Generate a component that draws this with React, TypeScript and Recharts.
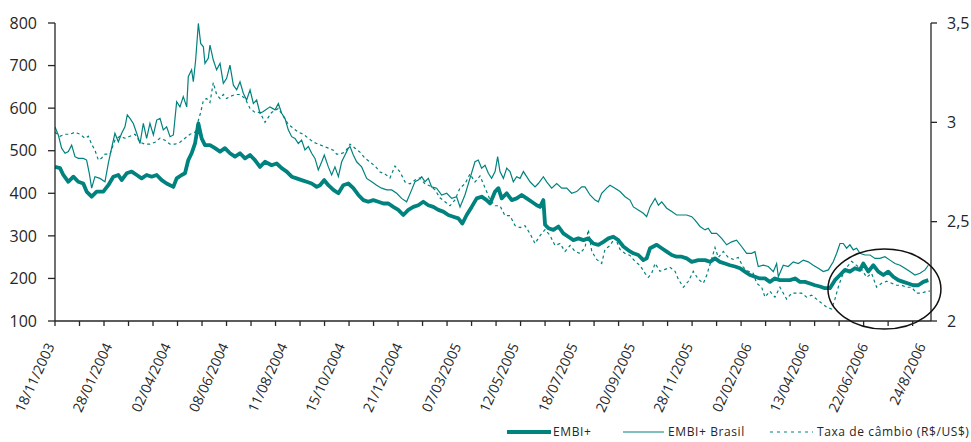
import React from "react";
import {
  LineChart,
  Line,
  XAxis,
  YAxis,
  ReferenceDot,
} from "recharts";

// [business-day index, value]
const embiPlus: [number, number][] = [
  [0, 462], [4.1, 459], [6.8, 443], [10.9, 427], [15, 439], [19, 427], [23.1, 423], [25.8, 404],
  [29.9, 392], [34, 404], [39.4, 404], [43.5, 419], [47.6, 439], [51.7, 443], [54.4, 431], [58.5, 447],
  [62.6, 451], [66.7, 443], [70.7, 435], [74.8, 443], [78.9, 439], [83, 443], [87.1, 431], [91.1, 423],
  [96.6, 415], [99.3, 435], [103.4, 443], [106.1, 447], [108.8, 478], [111.5, 494], [114.3, 517], [117, 564],
  [119.7, 529], [122.4, 513], [126.5, 513], [130.6, 506], [134.7, 498], [138.7, 506], [142.8, 494], [146.9, 486],
  [151, 494], [155.1, 482], [159.2, 490], [163.2, 478], [167.3, 462], [171.4, 474], [176.8, 466], [180.9, 470],
  [185, 459], [189.1, 451], [193.2, 439], [197.2, 435], [201.3, 431], [205.4, 427], [209.5, 423], [213.6, 415],
  [216.3, 419], [219.8, 431], [223.1, 419], [227.2, 408], [231.3, 400], [235.3, 419], [239.4, 423], [243.5, 412],
  [247.6, 396], [251.7, 384], [255.7, 380], [259.8, 384], [263.9, 380], [268, 376], [272.1, 376], [276.1, 368],
  [280.2, 361], [284.3, 349], [288.4, 361], [292.5, 368], [296.5, 372], [300.6, 380], [304.7, 372], [308.8, 368],
  [312.9, 361], [316.9, 357], [321, 349], [325.1, 345], [329.2, 341], [332.5, 329], [336, 349], [340.1, 368],
  [344.2, 388], [348.2, 392], [352.3, 384], [355.1, 376], [359.2, 404], [361.9, 412], [364.6, 388], [368.7, 400],
  [372.8, 384], [376.8, 388], [380.9, 396], [385, 388], [389.1, 380], [393.2, 372], [395.9, 368], [398.6, 384],
  [400, 326], [402.7, 318], [406.8, 314], [410.9, 322], [414.9, 306], [419, 298], [423.1, 290], [427.2, 294],
  [431.3, 290], [435.3, 294], [439.4, 282], [443.5, 279], [447.6, 286], [451.7, 294], [455.7, 298], [459.8, 290],
  [463.9, 275], [468, 266], [472.1, 259], [476.1, 255], [480.2, 243], [482.9, 247], [485.7, 271], [488.4, 275],
  [491.1, 279], [495.2, 271], [499.3, 263], [503.4, 255], [507.4, 251], [511.5, 251], [515.6, 247], [519.7, 239],
  [525.1, 243], [530.6, 243], [534.6, 239], [538.7, 247], [542.7, 239], [546.8, 235], [550.9, 231], [555, 228],
  [559.1, 224], [563.1, 216], [567.2, 208], [571.3, 204], [575.4, 200], [579.5, 200], [583.5, 192], [587.6, 200],
  [591.7, 196], [595.8, 196], [599.9, 196], [604, 200], [608, 192], [612.1, 192], [616.2, 188], [620.3, 184],
  [624.4, 181], [628.4, 177], [632.5, 177], [636.6, 196], [640.7, 208], [644.8, 220], [648.8, 216], [652.9, 224],
  [657, 220], [659.7, 235], [663.8, 216], [667.9, 231], [672, 216], [676.1, 208], [680.1, 216], [684.2, 204],
  [688.3, 196], [692.4, 192], [696.5, 188], [700.5, 184], [704.6, 184], [708.7, 192], [712.8, 196],
];

const embiBrasil: [number, number][] = [
  [0, 556], [2.7, 537], [5.4, 506], [8.2, 494], [10.9, 498], [13.6, 513], [16.3, 486], [19, 482],
  [23.1, 482], [25.8, 478], [28, 447], [29.9, 412], [32.6, 439], [36.7, 435], [40.8, 427], [43.5, 470],
  [46.2, 506], [48.9, 541], [51.7, 521], [54.4, 541], [57.1, 556], [59, 584], [61.2, 576], [63.9, 564],
  [66.7, 541], [69.4, 517], [72.1, 564], [74.8, 529], [77.5, 564], [80.3, 537], [83, 572], [85.7, 576],
  [88.4, 549], [91.1, 556], [93.9, 533], [96.6, 537], [99.3, 615], [102, 603], [104.7, 627], [107.5, 603],
  [108.8, 674], [111.5, 690], [112.9, 662], [114.8, 713], [117, 799], [118.9, 752], [121.1, 744], [122.4, 705],
  [125.1, 717], [126.5, 748], [129.2, 713], [131.9, 690], [134.7, 705], [137.4, 658], [140.1, 670], [142.8, 701],
  [145.6, 654], [148.3, 643], [151, 662], [153.7, 635], [156.4, 619], [159.2, 643], [161.9, 611], [164.6, 619],
  [167.3, 588], [170, 592], [175.5, 603], [179.6, 596], [182.3, 611], [185, 588], [187.7, 576], [190.4, 549],
  [193.2, 533], [195.9, 529], [198.6, 517], [201.3, 525], [204, 502], [206.8, 510], [209.5, 494], [212.2, 482],
  [214.9, 455], [217.7, 474], [219.8, 490], [223.1, 462], [225.8, 443], [228.5, 462], [231.3, 439], [234, 474],
  [236.7, 490], [239.4, 506], [240.8, 510], [243.5, 490], [246.2, 474], [250.3, 462], [254.4, 435], [258.5, 427],
  [262.5, 419], [266.6, 412], [270.7, 408], [274.8, 408], [278.9, 400], [282.9, 388], [287, 380], [291.1, 408],
  [293.8, 427], [296.5, 431], [299.3, 439], [302, 427], [304.7, 435], [307.4, 415], [311.5, 412], [315.6, 396],
  [319.7, 400], [323.8, 388], [327.8, 392], [330.6, 368], [334.6, 396], [338.7, 435], [342.8, 474], [345.5, 478],
  [348.2, 459], [351, 466], [353.7, 447], [356.4, 435], [359.2, 451], [361.3, 486], [363.2, 451], [366, 435],
  [368.7, 459], [371.4, 451], [374.1, 427], [376.8, 439], [379.6, 435], [382.3, 451], [385, 439], [387.7, 427],
  [391.8, 415], [394.5, 423], [398.6, 439], [401.3, 427], [405.4, 412], [409.5, 423], [413.6, 412], [417.7, 412],
  [421.7, 400], [425.8, 404], [429.9, 415], [432.6, 415], [436.7, 396], [440.8, 384], [443.5, 380], [446.2, 400],
  [450.3, 412], [453, 419], [457.1, 412], [461.2, 404], [465.3, 392], [469.3, 384], [472.1, 368], [476.1, 361],
  [480.2, 353], [482.9, 345], [485.7, 368], [489.8, 388], [492.5, 372], [495.2, 380], [499.3, 365], [503.4, 357],
  [507.4, 349], [511.5, 349], [515.6, 349], [519.7, 345], [522.4, 337], [526.5, 322], [530.6, 314], [533.2, 318],
  [535.9, 306], [540, 306], [544.1, 294], [548.2, 279], [552.3, 286], [556.3, 290], [560.4, 275], [564.5, 259],
  [568.6, 259], [571.3, 263], [574, 228], [578.1, 231], [582.2, 228], [586.3, 216], [589, 235], [590.4, 204],
  [594.4, 231], [598.5, 228], [602.6, 239], [606.7, 235], [610.8, 243], [614.8, 239], [618.9, 231], [623, 224],
  [627.1, 216], [631.2, 220], [635.2, 239], [638, 259], [640.7, 282], [643.4, 282], [646.1, 271], [648.8, 279],
  [651.6, 267], [654.3, 271], [657, 259], [661.1, 255], [665.2, 255], [669.3, 247], [673.3, 247], [677.4, 251],
  [681.5, 243], [685.6, 235], [689.7, 231], [693.7, 224], [697.8, 216], [701.9, 208], [706, 212], [710.1, 220],
  [712.8, 231],
];

// R$/US$
const cambio: [number, number][] = [
  [0, 2.95], [4.1, 2.93], [8.2, 2.94], [12.2, 2.94], [16.3, 2.95], [20.4, 2.94], [24.5, 2.92], [27.2, 2.93],
  [29.9, 2.89], [32.6, 2.86], [35.4, 2.81], [38.1, 2.82], [40.8, 2.84], [44.9, 2.84], [48.9, 2.91], [53, 2.93],
  [57.1, 2.92], [61.2, 2.93], [65.3, 2.94], [69.4, 2.9], [73.5, 2.89], [77.5, 2.89], [81.6, 2.9], [85.7, 2.92],
  [89.8, 2.91], [93.9, 2.89], [97.9, 2.89], [102, 2.9], [106.1, 2.92], [110.2, 2.94], [114.3, 2.95], [117, 3.01],
  [118.9, 3.05], [121.1, 3.11], [123.8, 3.12], [126.5, 3.1], [129.2, 3.2], [131.9, 3.14], [134.7, 3.12], [137.4, 3.14],
  [140.1, 3.12], [142.8, 3.13], [146.9, 3.14], [151, 3.14], [155.1, 3.12], [159.2, 3.07], [163.2, 3.05], [167.3, 3.05],
  [171.4, 3.0], [176.8, 3.05], [182.3, 3.07], [186.4, 3.03], [190.4, 2.99], [194.5, 2.97], [198.6, 2.95], [202.7, 2.94],
  [206.8, 2.92], [210.9, 2.9], [214.9, 2.89], [219, 2.88], [223.1, 2.87], [227.2, 2.86], [229.9, 2.84], [232.6, 2.84],
  [236.7, 2.85], [240.8, 2.89], [244.9, 2.87], [248.9, 2.85], [253, 2.82], [257.1, 2.8], [261.2, 2.78], [265.3, 2.75],
  [269.3, 2.74], [273.4, 2.72], [277.5, 2.78], [281.6, 2.75], [285.7, 2.7], [289.7, 2.69], [293.8, 2.71], [297.9, 2.72],
  [302, 2.69], [306.1, 2.68], [310.2, 2.66], [314.2, 2.62], [318.3, 2.6], [322.4, 2.58], [326.5, 2.61], [330.6, 2.67],
  [334.6, 2.69], [338.7, 2.74], [342.8, 2.7], [346.9, 2.73], [351, 2.67], [355.1, 2.61], [359.2, 2.58], [363.2, 2.58],
  [367.3, 2.53], [371.4, 2.53], [375.5, 2.48], [379.6, 2.47], [383.6, 2.48], [387.7, 2.44], [391.8, 2.39], [395.9, 2.43],
  [400, 2.46], [404.1, 2.43], [408.1, 2.38], [412.2, 2.39], [416.3, 2.35], [420.4, 2.38], [424.5, 2.35], [428.5, 2.34],
  [432.6, 2.37], [435.3, 2.46], [438.1, 2.35], [442.1, 2.31], [446.2, 2.29], [448.9, 2.36], [453, 2.38], [457.1, 2.42],
  [461.2, 2.36], [465.3, 2.34], [469.3, 2.33], [473.4, 2.3], [477.5, 2.28], [481.6, 2.24], [484.3, 2.22], [487, 2.24],
  [489.8, 2.29], [493.8, 2.25], [497.9, 2.26], [502, 2.27], [506.1, 2.25], [508.8, 2.21], [512.9, 2.17], [517, 2.2],
  [521, 2.25], [525.1, 2.21], [529.2, 2.19], [531.9, 2.23], [535.9, 2.31], [538.7, 2.37], [541.4, 2.32], [545.5, 2.35],
  [549.5, 2.32], [553.6, 2.31], [557.7, 2.32], [561.8, 2.27], [565.9, 2.25], [569.9, 2.24], [572.7, 2.19], [576.8, 2.17],
  [579.5, 2.12], [583.5, 2.15], [587.6, 2.12], [591.7, 2.17], [597.2, 2.11], [601.2, 2.14], [605.3, 2.14], [609.4, 2.14],
  [613.5, 2.12], [617.6, 2.13], [621.6, 2.11], [625.7, 2.09], [629.8, 2.07], [633.9, 2.06], [636.6, 2.11], [639.3, 2.17],
  [642, 2.22], [646.1, 2.27], [650.2, 2.3], [654.3, 2.28], [658.4, 2.26], [662.5, 2.22], [666.5, 2.24], [670.6, 2.17],
  [674.7, 2.19], [678.8, 2.2], [682.9, 2.19], [686.9, 2.18], [691, 2.18], [695.1, 2.17], [699.2, 2.17], [703.3, 2.14],
  [707.3, 2.14], [711.4, 2.15], [714.1, 2.15],
];

const dateLabels = [
  "18/11/2003", "28/01/2004", "02/04/2004", "08/06/2004", "11/08/2004", "15/10/2004",
  "21/12/2004", "07/03/2005", "12/05/2005", "18/07/2005", "20/09/2005", "28/11/2005",
  "02/02/2006", "13/04/2006", "22/06/2006", "24/8/2006",
];
const labelDays = [0, 47, 95, 142, 190, 237, 284, 332, 379, 427, 474, 521, 569, 616, 664, 711];
const tickDays = Array.from({ length: 36 }, (_, i) => i * 20);
const leftTicks = [100, 200, 300, 400, 500, 600, 700, 800];
const rightTicks = [2, 2.5, 3, 3.5];

const TEAL = "#00827e";
const INK = "#262626";
const FONT = "'Open Sans', sans-serif";

const toRows = (pts: [number, number][]) => pts.map(([d, v]) => ({ d, v }));

const allXTicks = Array.from(new Set([...tickDays, ...labelDays])).sort((a, b) => a - b);

function XTick(props: any) {
  const { x, y, payload } = props;
  const v = payload.value;
  const li = labelDays.indexOf(v);
  return (
    <g>
      {tickDays.includes(v) && (
        <line x1={x} x2={x} y1={y} y2={y + 5} stroke={INK} strokeWidth={1.3} />
      )}
      {li >= 0 && (
        <text
          x={x}
          y={y + 25}
          textAnchor="end"
          transform={`rotate(-65 ${x} ${y + 25})`}
          fontSize={14}
          fontFamily={FONT}
          fill={INK}
        >
          {dateLabels[li]}
        </text>
      )}
    </g>
  );
}

function Ellipse(props: any) {
  const { cx, cy } = props;
  return <ellipse cx={cx} cy={cy} rx={56.5} ry={40} fill="none" stroke="#111" strokeWidth={1.5} />;
}

function LegendRow() {
  const text = { fontSize: 12, fontFamily: FONT, fill: INK, letterSpacing: 0.6 } as const;
  return (
    <svg width={971} height={24} style={{ position: "absolute", left: 0, top: 420 }}>
      <line x1={507} x2={551} y1={12} y2={12} stroke={TEAL} strokeWidth={4} />
      <text x={553} y={16} {...text}>EMBI+</text>
      <line x1={623} x2={664} y1={12} y2={12} stroke={TEAL} strokeWidth={1.2} />
      <text x={668} y={16} {...text}>EMBI+ Brasil</text>
      <line x1={770} x2={813} y1={12} y2={12} stroke={TEAL} strokeWidth={1.2} strokeDasharray="3 4" />
      <text x={817} y={16} {...text}>Taxa de câmbio (R$/US$)</text>
    </svg>
  );
}

export default function App() {
  const tickStyle = { fill: INK, fontSize: 16, fontFamily: FONT };
  return (
    <div style={{ position: "absolute", left: 0, top: 0, width: 971, height: 442, background: "#fff" }}>
      <LineChart width={971} height={442} margin={{ top: 23, right: 0, bottom: 0, left: 0 }}>
        <XAxis
          type="number"
          dataKey="d"
          domain={[0, 715]}
          allowDataOverflow
          ticks={allXTicks}
          interval={0}
          tick={<XTick />}
          tickLine={false}
          tickSize={0}
          tickMargin={0}
          height={121}
          axisLine={{ stroke: INK, strokeWidth: 1.3 }}
        />
        <YAxis
          yAxisId="left"
          domain={[100, 800]}
          ticks={leftTicks}
          width={55}
          tickSize={7}
          tickMargin={11}
          tick={tickStyle}
          tickLine={{ stroke: INK, strokeWidth: 1.3 }}
          axisLine={{ stroke: INK, strokeWidth: 1.3 }}
          interval={0}
        />
        <YAxis
          yAxisId="right"
          orientation="right"
          domain={[2, 3.5]}
          ticks={rightTicks}
          width={40}
          tickSize={6}
          tickMargin={10}
          tick={{ ...tickStyle, textAnchor: "start" }}
          tickFormatter={(v: number) => String(v).replace(".", ",")}
          tickLine={{ stroke: INK, strokeWidth: 1.3 }}
          axisLine={{ stroke: INK, strokeWidth: 1.3 }}
          interval={0}
        />
        <Line
          yAxisId="right"
          data={toRows(cambio)}
          dataKey="v"
          type="linear"
          stroke={TEAL}
          strokeWidth={1.2}
          strokeDasharray="3 3"
          dot={false}
          isAnimationActive={false}
        />
        <Line
          yAxisId="left"
          data={toRows(embiBrasil)}
          dataKey="v"
          type="linear"
          stroke={TEAL}
          strokeWidth={1.2}
          dot={false}
          isAnimationActive={false}
        />
        <Line
          yAxisId="left"
          data={toRows(embiPlus)}
          dataKey="v"
          type="linear"
          stroke={TEAL}
          strokeWidth={3.8}
          strokeLinejoin="round"
          dot={false}
          isAnimationActive={false}
        />
        <ReferenceDot
          yAxisId="left"
          x={677}
          y={175}
          ifOverflow="visible"
          shape={<Ellipse />}
        />
      </LineChart>
      <LegendRow />
    </div>
  );
}
